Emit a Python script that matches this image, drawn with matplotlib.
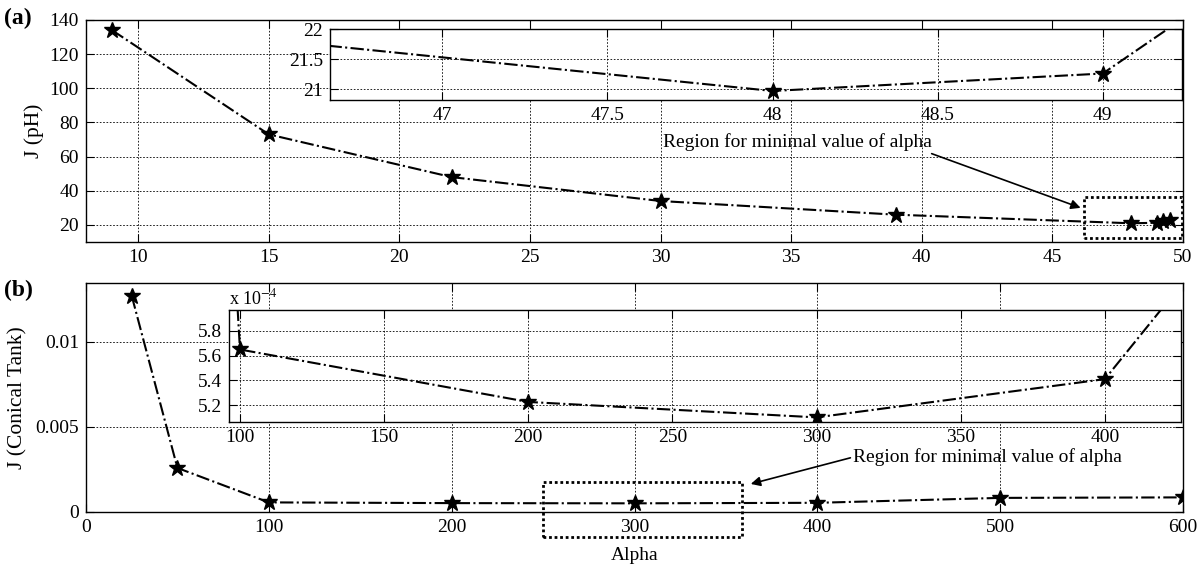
import matplotlib
matplotlib.use("Agg")
import matplotlib.pyplot as plt
from matplotlib.patches import Rectangle
import numpy as np

plt.rcParams['font.family'] = ['Liberation Serif', 'DejaVu Serif']
plt.rcParams['mathtext.fontset'] = 'stix'

# ---- data (a): pH process ----
alpha_a = [9, 15, 22, 30, 39, 48, 49, 49.25, 49.5]
J_a = [134, 73, 48, 34, 26, 20.97, 21.26, 22.2, 23.0]

# ---- data (b): conical tank ----
alpha_b = [25, 50, 100, 200, 300, 400, 500, 600]
J_b = [0.01272, 0.00259, 5.65e-4, 5.225e-4, 5.10e-4, 5.41e-4, 8.3e-4, 8.6e-4]

xt_a = [10, 15, 20, 25, 30, 35, 40, 45, 50]
yt_a = [20, 40, 60, 80, 100, 120, 140]
xt_ia = [47, 47.5, 48, 48.5, 49]
yt_ia = [21, 21.5, 22]
xt_b = [0, 100, 200, 300, 400, 500, 600]
yt_b = [0, 0.005, 0.01]
yt_b_lab = ['0', '0.005', '0.01']
xt_ib = [100, 150, 200, 250, 300, 350, 400]
yt_ib = [5.2, 5.4, 5.6, 5.8]

label_txt = 'Region for minimal value of alpha'

W, H = 1204, 569
fig = plt.figure(figsize=(W / 100, H / 100), dpi=100)


def rect(l, t, r, b):
    return [l / W, 1 - b / H, (r - l) / W, (b - t) / H]


FS = 14


def style(ax, fs=FS):
    ax.grid(True, color='black', linestyle=(0, (2, 2)), linewidth=0.6)
    ax.tick_params(direction='in', top=True, right=True, labelsize=fs,
                   length=6, width=0.8, colors='black', pad=5)
    for s in ax.spines.values():
        s.set_linewidth(1.0)
    ax.set_axisbelow(False)


line_kw = dict(color='black', linestyle='-.', linewidth=1.5, marker='*',
               markersize=12, markerfacecolor='black', markeredgecolor='black')

# ---- (a) main ----
axa = fig.add_axes(rect(86, 20, 1183, 242))
axa.plot(alpha_a, J_a, **line_kw)
axa.set_xlim(8, 50)
axa.set_ylim(10, 140)
axa.set_xticks(xt_a)
axa.set_yticks(yt_a)
style(axa)
axa.set_ylabel('J (pH)', fontsize=FS + 1.5, labelpad=4)
axa.add_patch(Rectangle((46.2, 12.5), 3.75, 24.0, fill=False,
                        edgecolor='black', linestyle=(0, (1, 1)), linewidth=2.0, zorder=5))
axa.annotate(label_txt, xy=(46.08, 30), xytext=(30.1, 68.6),
             fontsize=FS, va='center', ha='left',
             arrowprops=dict(arrowstyle='-|>', color='black', lw=1.2,
                             mutation_scale=14, shrinkA=0, shrinkB=0,
                             relpos=(0.97, 0.0)))

# ---- (a) inset ----
ia = fig.add_axes(rect(330, 29, 1182, 100))
ia.plot(alpha_a, J_a, **line_kw)
ia.set_xlim(46.66, 49.24)
ia.set_ylim(20.82, 22.0)
ia.set_xticks(xt_ia)
ia.set_xticklabels(['47', '47.5', '48', '48.5', '49'])
ia.set_yticks(yt_ia)
ia.set_yticklabels(['21', '21.5', '22'])
style(ia)
ia.set_facecolor('white')

# ---- (b) main ----
axb = fig.add_axes(rect(86, 283, 1183, 512))
axb.plot(alpha_b, J_b, **line_kw)
axb.set_xlim(0, 600)
axb.set_ylim(0, 0.01347)
axb.set_xticks(xt_b)
axb.set_yticks(yt_b)
axb.set_yticklabels(yt_b_lab)
style(axb)
axb.set_ylabel('J (Conical Tank)', fontsize=FS + 1.5, labelpad=6)
axb.set_xlabel('Alpha', fontsize=FS, labelpad=8)
axb.add_patch(Rectangle((250, -0.00149), 109, 0.00324, fill=False,
                        edgecolor='black', linestyle=(0, (1, 1)), linewidth=2.0,
                        zorder=5, clip_on=False))
axb.annotate(label_txt, xy=(363.6, 0.00165), xytext=(419.6, 0.00323),
             fontsize=FS, va='center', ha='left',
             arrowprops=dict(arrowstyle='-|>', color='black', lw=1.2,
                             mutation_scale=14, shrinkA=0, shrinkB=0,
                             relpos=(0.0, 0.5)))

# ---- (b) inset ----
ib = fig.add_axes(rect(229, 310, 1181, 421.7))
ib.plot(alpha_b, np.array(J_b) * 1e4, **line_kw)
ib.set_xlim(96.2, 426.4)
ib.set_ylim(5.065, 5.97)
ib.set_xticks(xt_ib)
ib.set_yticks(yt_ib)
ib.set_yticklabels(['5.2', '5.4', '5.6', '5.8'])
style(ib)
ib.set_facecolor('white')
fig.text(229 / W, 1 - 308 / H, r'x 10$^{-4}$', fontsize=FS - 1, va='bottom', ha='left')

# panel labels
fig.text(4 / W, 1 - 18 / H, '(a)', fontsize=FS + 3, fontweight='bold', va='center')
fig.text(4 / W, 1 - 290 / H, '(b)', fontsize=FS + 3, fontweight='bold', va='center')

fig.savefig('out.png', dpi=100)
